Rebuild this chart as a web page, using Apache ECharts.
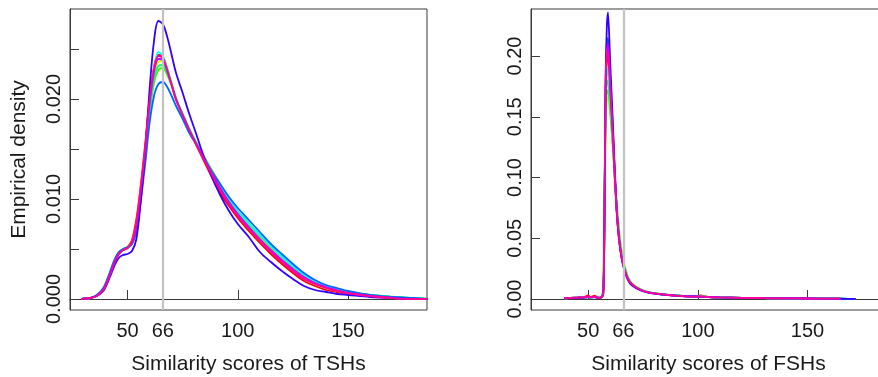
<!DOCTYPE html>
<html>
<head>
<meta charset="utf-8">
<script src="https://cdn.jsdelivr.net/npm/echarts@6/dist/echarts.min.js"></script>
<style>
html,body{margin:0;padding:0;background:#fff;}
#chart{width:878px;height:377px;}
</style>
</head>
<body>
<div id="chart"></div>
<script>
// ---------- Data ----------
const seriesColors = ['#FF0000','#FF9900','#CCFF00','#33FF00','#00FF66','#00FFFF','#0066FF','#3300FF','#CC00FF','#FF0099'];
const xTicks = [50, 100, 150];
const xLabels = [50, 66, 100, 150];
const refScore = 66;
const tshYTicks = [0, 0.005, 0.010, 0.015, 0.020, 0.025];
const tshYLabels = [0, 0.010, 0.020];
const fshYTicks = [0, 0.05, 0.10, 0.15, 0.20];
const fshYLabels = [0, 0.05, 0.10, 0.15, 0.20];

// TSH panel: x grid of density evaluation
const tshX = [29,33,36,39,42,44,46,48,50,52,54,56,58,60,62,64,66,68,70,72,75,78,81,84,88,92,96,100,105,110,115,120,125,130,135,140,145,150,160,170,180,186];
const tshRed    = [0,.0001,.0003,.0009,.0024,.0036,.0045,.0049,.0052,.0059,.0080,.0114,.0155,.0200,.0232,.0244,.0242,.0230,.0215,.0200,.0184,.0169,.0155,.0141,.0123,.0106,.0093,.0081,.0068,.0056,.0045,.0035,.0026,.0018,.0013,.0009,.0007,.0005,.0003,.0001,0,0];
const tshOrange = [0,.0001,.0003,.0009,.0024,.0036,.0045,.0049,.0051,.0057,.0075,.0110,.0150,.0196,.0228,.0240,.0240,.0229,.0215,.0200,.0184,.0169,.0156,.0143,.0126,.0110,.0096,.0084,.0071,.0059,.0048,.0038,.0029,.0021,.0015,.0011,.0008,.0006,.0003,.0001,0,0];
const tshYellow = [0,.0001,.0003,.0009,.0025,.0037,.0045,.0049,.0051,.0056,.0072,.0106,.0146,.0192,.0224,.0237,.0238,.0229,.0216,.0201,.0185,.0170,.0157,.0144,.0128,.0113,.0099,.0087,.0074,.0062,.0051,.0041,.0031,.0023,.0017,.0012,.0009,.0007,.0004,.0002,.0001,0];
const tshGreen  = [0,.0001,.0003,.0009,.0025,.0037,.0046,.0050,.0052,.0056,.0071,.0104,.0142,.0185,.0216,.0229,.0231,.0224,.0213,.0200,.0185,.0170,.0157,.0145,.0130,.0115,.0100,.0087,.0074,.0063,.0052,.0042,.0032,.0024,.0018,.0013,.0010,.0007,.0004,.0002,.0001,0];
const tshSpring = [0,.0001,.0003,.0010,.0025,.0037,.0046,.0050,.0051,.0055,.0070,.0103,.0143,.0188,.0220,.0233,.0234,.0226,.0214,.0200,.0185,.0170,.0157,.0145,.0129,.0114,.0100,.0088,.0076,.0064,.0053,.0043,.0033,.0025,.0018,.0013,.0010,.0007,.0004,.0002,.0001,0];
const tshCyan   = [0,.0001,.0003,.0010,.0025,.0037,.0046,.0049,.0051,.0055,.0069,.0102,.0144,.0195,.0230,.0247,.0243,.0230,.0215,.0200,.0184,.0169,.0156,.0144,.0128,.0113,.0099,.0087,.0075,.0064,.0053,.0042,.0033,.0024,.0018,.0013,.0010,.0007,.0004,.0002,.0001,0];
const tshAzure  = [0,.0001,.0004,.0011,.0027,.0039,.0047,.0050,.0052,.0055,.0068,.0098,.0135,.0176,.0203,.0215,.0217,.0212,.0203,.0193,.0180,.0166,.0155,.0144,.0128,.0115,.0102,.0091,.0079,.0067,.0055,.0045,.0035,.0026,.0019,.0014,.0011,.0008,.0004,.0002,.0001,0];
const tshViolet = [0,.0001,.0003,.0008,.0022,.0033,.0041,.0044,.0045,.0048,.0060,.0098,.0148,.0210,.0258,.0278,.0275,.0262,.0244,.0226,.0206,.0185,.0166,.0146,.0123,.0104,.0088,.0075,.0062,.0047,.0037,.0028,.0020,.0013,.0009,.0007,.0005,.0004,.0002,.0001,0,0];
const tshPurple = [0,.0001,.0003,.0009,.0024,.0036,.0045,.0049,.0051,.0056,.0073,.0108,.0149,.0195,.0227,.0240,.0239,.0228,.0214,.0200,.0184,.0169,.0156,.0143,.0127,.0111,.0097,.0085,.0072,.0060,.0049,.0039,.0030,.0022,.0016,.0012,.0009,.0006,.0003,.0001,0,0];
const tshPink   = [0,.0001,.0003,.0009,.0024,.0036,.0045,.0049,.0051,.0057,.0076,.0111,.0152,.0198,.0230,.0243,.0241,.0229,.0214,.0199,.0184,.0169,.0155,.0142,.0125,.0109,.0095,.0083,.0070,.0058,.0047,.0037,.0028,.0020,.0015,.0011,.0008,.0006,.0003,.0001,0,0];

// FSH panel
const fshX = [39,42,45,48,50,51,53,54,55,56,56.8,57.2,57.6,58,58.5,59,59.5,60,60.5,61,62,63,64,65,66,68,70,74,78,82,86,90,95,100,101,105,110,120,130,140,150,160,165,172];
const fshRed    = [.0006,.0010,.0012,.0014,.0030,.0015,.0028,.0014,.0010,.0014,.004,.028,.100,.175,.198,.200,.188,.170,.152,.137,.103,.071,.050,.037,.028,.017,.012,.0075,.0052,.0045,.0034,.0027,.0022,.0021,.0030,.0016,.0012,.0009,.0007,.0005,.0004,.0003,.0002,null];
const fshOrange = [.0005,.0009,.0011,.0013,.0016,.0014,.0017,.0013,.0011,.0014,.004,.026,.095,.168,.188,.190,.180,.165,.150,.136,.104,.074,.053,.039,.029,.018,.012,.0078,.0054,.0042,.0035,.0029,.0023,.0021,.0020,.0017,.0013,.0010,.0007,.0005,.0004,.0003,.0002,null];
const fshYellow = [.0005,.0009,.0011,.0013,.0015,.0014,.0016,.0013,.0011,.0014,.003,.022,.082,.145,.162,.166,.162,.152,.141,.130,.104,.078,.058,.043,.033,.019,.013,.0080,.0055,.0043,.0035,.0029,.0023,.0021,.0020,.0017,.0013,.0010,.0007,.0005,.0004,.0003,.0002,.0001];
const fshGreen  = [.0005,.0009,.0011,.0013,.0015,.0014,.0016,.0013,.0011,.0015,.008,.060,.120,.160,.170,.172,.166,.155,.143,.131,.103,.076,.056,.041,.031,.018,.012,.0078,.0054,.0044,.0035,.0029,.0023,.0021,.0020,.0017,.0013,.0010,.0007,.0005,.0004,.0003,.0002,.0001];
const fshSpring = [.0005,.0009,.0011,.0013,.0015,.0014,.0016,.0013,.0011,.0015,.006,.045,.115,.165,.178,.180,.172,.160,.147,.134,.104,.076,.055,.040,.030,.018,.012,.0077,.0054,.0043,.0035,.0029,.0023,.0021,.0020,.0017,.0013,.0010,.0007,.0005,.0004,.0003,.0002,.0001];
const fshCyan   = [.0005,.0009,.0011,.0013,.0015,.0014,.0016,.0013,.0011,.0014,.004,.030,.105,.172,.188,.190,.180,.166,.151,.137,.104,.074,.053,.039,.029,.018,.012,.0077,.0054,.0043,.0035,.0029,.0023,.0021,.0020,.0017,.0013,.0010,.0007,.0005,.0004,.0003,.0002,.0001];
const fshAzure  = [.0005,.0008,.0010,.0012,.0015,.0013,.0016,.0012,.0010,.0014,.004,.030,.110,.185,.210,.215,.203,.183,.164,.147,.108,.073,.051,.037,.028,.017,.012,.0072,.0051,.0041,.0034,.0028,.0022,.0020,.0019,.0016,.0013,.0010,.0007,.0005,.0004,.0003,.0002,.0001];
const fshViolet = [.0005,.0008,.0010,.0012,.0015,.0013,.0016,.0012,.0010,.0015,.004,.030,.110,.190,.225,.236,.220,.195,.175,.155,.112,.073,.050,.036,.027,.016,.011,.0070,.0050,.0040,.0033,.0028,.0022,.0020,.0019,.0016,.0013,.0010,.0007,.0005,.0004,.0003,.0002,.0001];
const fshPurple = [.0005,.0009,.0011,.0013,.0015,.0014,.0016,.0013,.0011,.0014,.004,.028,.105,.182,.205,.210,.197,.178,.160,.143,.106,.073,.051,.037,.028,.017,.012,.0074,.0052,.0042,.0034,.0028,.0022,.0020,.0019,.0016,.0013,.0010,.0007,.0005,.0004,.0003,.0002,null];
const fshPink   = [.0006,.0010,.0012,.0014,.0022,.0015,.0020,.0014,.0010,.0014,.004,.030,.110,.182,.202,.205,.192,.174,.157,.141,.105,.072,.051,.037,.028,.017,.012,.0074,.0052,.0042,.0034,.0028,.0022,.0020,.0024,.0016,.0013,.0010,.0007,.0005,.0004,.0003,.0002,null];

const tshSeries = [tshRed,tshOrange,tshYellow,tshGreen,tshSpring,tshCyan,tshAzure,tshViolet,tshPurple,tshPink];
const fshSeries = [fshRed,fshOrange,fshYellow,fshGreen,fshSpring,fshCyan,fshAzure,fshViolet,fshPurple,fshPink];

// ---------- Chart ----------
const FONT = "'Liberation Sans', Arial, sans-serif";
const TXT = '#1a1a1a';
const AX = '#3a3a3a';

function zip(xs, ys){ return xs.map((x,i)=>[x, ys[i]]); }

function makeX(idx, name){
  return {
    type:'value', gridIndex:idx, min:23.9, max:185.8,
    axisLine:{show:true, lineStyle:{color:AX, width:1}},
    axisTick:{show:true, inside:true, length:9, customValues:xTicks, lineStyle:{color:AX, width:1}},
    axisLabel:{customValues:xLabels, fontSize:20, fontFamily:FONT, color:TXT, margin:11},
    splitLine:{show:false},
    name:name, nameLocation:'middle', nameGap:44, nameMoveOverlap:false,
    nameTextStyle:{fontSize:21, fontFamily:FONT, color:TXT}
  };
}
function makeY(idx, min, max, ticks, labels, digits, name){
  const y = {
    type:'value', gridIndex:idx, min:min, max:max,
    axisLine:{show:true, lineStyle:{color:AX, width:1}},
    axisTick:{show:true, inside:true, length:9, customValues:ticks, lineStyle:{color:AX, width:1}},
    axisLabel:{customValues:labels, rotate:90, fontSize:20, fontFamily:FONT, color:TXT, margin:6,
      formatter:(v)=>Number(v).toFixed(digits)},
    splitLine:{show:false}
  };
  if(name){
    y.name = name; y.nameLocation='middle'; y.nameGap=40; y.nameMoveOverlap=false;
    y.nameTextStyle={fontSize:21, fontFamily:FONT, color:TXT};
  }
  return y;
}

const series = [];
tshSeries.forEach((d,i)=>{
  const s = {type:'line', xAxisIndex:0, yAxisIndex:0, data:zip(tshX,d), showSymbol:false, smooth:0.35,
    lineStyle:{color:seriesColors[i], width:1.8}, itemStyle:{color:seriesColors[i]}, silent:true, connectNulls:false};
  if(i===tshSeries.length-1){
    s.markLine = {silent:true, symbol:['none','none'], label:{show:false}, animation:false,
      lineStyle:{color:'#c2c2c2', width:2.2, type:'solid'}, data:[{xAxis:refScore}]};
  }
  series.push(s);
});
fshSeries.forEach((d,i)=>{
  const s = {type:'line', xAxisIndex:1, yAxisIndex:1, data:zip(fshX,d), showSymbol:false, smooth:0.2,
    lineStyle:{color:seriesColors[i], width:1.8}, itemStyle:{color:seriesColors[i]}, silent:true, connectNulls:false};
  if(i===fshSeries.length-1){
    s.markLine = {silent:true, symbol:['none','none'], label:{show:false}, animation:false,
      lineStyle:{color:'#c2c2c2', width:2.2, type:'solid'}, data:[{xAxis:refScore}]};
  }
  series.push(s);
});

const chart = echarts.init(document.getElementById('chart'), null, {renderer:'canvas'});
chart.setOption({
  animation:false,
  backgroundColor:'#fff',
  grid:[
    {left:70, top:9, width:357, height:301, show:true, borderColor:AX, borderWidth:1, backgroundColor:'transparent', outerBoundsMode:'none', containLabel:false},
    {left:531, top:9, width:355, height:301, show:true, borderColor:AX, borderWidth:1, backgroundColor:'transparent', outerBoundsMode:'none', containLabel:false}
  ],
  xAxis:[makeX(0,'Similarity scores of TSHs'), makeX(1,'Similarity scores of FSHs')],
  yAxis:[
    makeY(0, -0.0011, 0.029, tshYTicks, tshYLabels, 3, 'Empirical density'),
    makeY(1, -0.00905, 0.2387, fshYTicks, fshYLabels, 2, null)
  ],
  series:series
});
</script>
</body>
</html>
